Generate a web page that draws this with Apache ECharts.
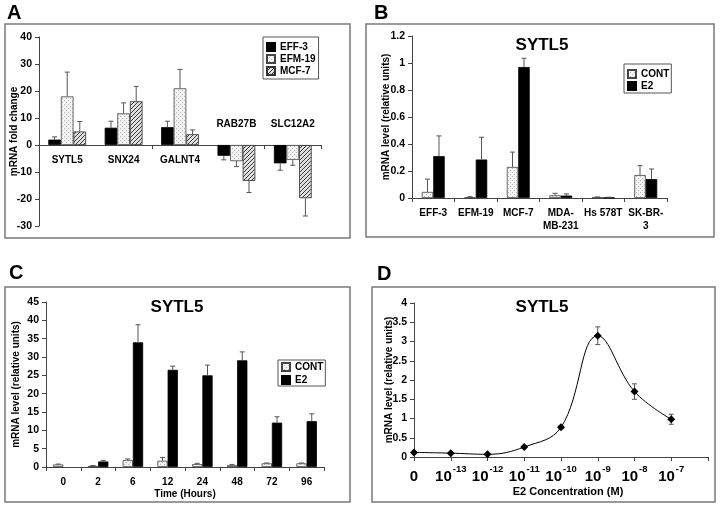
<!DOCTYPE html>
<html><head><meta charset="utf-8">
<script src="https://cdn.jsdelivr.net/npm/echarts@6/dist/echarts.min.js"></script>
<style>html,body{margin:0;padding:0;background:#fff}#c{width:721px;height:508px}</style>
</head><body><div id="c"></div>
<script>
// ---------- Panel A ----------
const aCategories = ['SYTL5', 'SNX24', 'GALNT4', 'RAB27B', 'SLC12A2'];
const aSeriesNames = ['EFF-3', 'EFM-19', 'MCF-7'];
const aEFF3 = [2, 6.4, 6.6, -4, -6.8];
const aEFF3Err = [1, 2.4, 2.2, 1.5, 2.5];
const aEFM19 = [18, 11.7, 21, -6, -5.5];
const aEFM19Err = [9, 3.9, 7, 2, 2];
const aMCF7 = [5, 16.2, 4, -13.3, -19.7];
const aMCF7Err = [3.7, 5.5, 1.6, 4.3, 6.6];

// ---------- Panel B ----------
const bCategories = ['EFF-3', 'EFM-19', 'MCF-7', 'MDA-\nMB-231', 'Hs 578T', 'SK-BR-\n3'];
const bCONT = [0.045, 0.005, 0.23, 0.02, 0.005, 0.17];
const bCONTErr = [0.095, 0.005, 0.11, 0.015, 0.003, 0.07];
const bE2 = [0.31, 0.285, 0.97, 0.018, 0.003, 0.14];
const bE2Err = [0.15, 0.165, 0.065, 0.012, 0.003, 0.075];

// ---------- Panel C ----------
const cCategories = ['0', '2', '6', '12', '24', '48', '72', '96'];
const cCONT = [0.7, 0.3, 1.9, 1.7, 0.8, 0.5, 1.0, 1.0];
const cCONTErr = [0.1, 0.1, 0.3, 0.9, 0.2, 0.2, 0.1, 0.1];
const cE2 = [null, 1.5, 34, 26.5, 25, 29.1, 12.1, 12.5];
const cE2Err = [null, 0.3, 4.8, 1.0, 2.8, 2.3, 1.6, 2.0];

// ---------- Panel D ----------
const dCategories = ['0', '-13', '-12', '-11', '-10', '-9', '-8', '-7', ''];
const dValues = [0.12, 0.1, 0.07, 0.26, 0.77, 3.15, 1.7, 0.98];
const dErr = [0.02, 0.02, 0.02, 0.03, 0.04, 0.23, 0.2, 0.13];

const FF = "'Liberation Sans', Arial, sans-serif";
const AX = '#444';

function makePattern(kind) {
  const c = document.createElement('canvas');
  c.width = 4; c.height = 4;
  const g = c.getContext('2d');
  if (kind === 'dots') {
    g.fillStyle = '#f3f3f3'; g.fillRect(0, 0, 4, 4);
    g.fillStyle = '#b4b4b4'; g.fillRect(0, 0, 1, 1); g.fillRect(2, 2, 1, 1);
  } else {
    g.fillStyle = '#dedede'; g.fillRect(0, 0, 4, 4);
    g.fillStyle = '#404040';
    for (let i = 0; i < 4; i++) g.fillRect(i, 3 - i, 1, 1);
  }
  return { image: c, repeat: 'repeat' };
}
const dots = makePattern('dots');
const hatch = makePattern('hatch');

function errSeries(xi, vals, errs, sIdx, nSeries, gap, both) {
  const data = [];
  vals.forEach((v, i) => { if (v != null && errs[i] != null) data.push([i, v, errs[i]]); });
  return {
    type: 'custom', xAxisIndex: xi, yAxisIndex: xi, silent: true, z: 5,
    data: data,
    renderItem: function (params, api) {
      const i = api.value(0), v = api.value(1), e = api.value(2);
      const p = api.coord([i, v]);
      let x = p[0];
      if (nSeries) {
        const band = api.size([1, 0])[0];
        const gw = band * (1 - gap);
        const bw = gw / nSeries;
        x = p[0] - gw / 2 + bw * (sIdx + 0.5);
      }
      const dir = v < 0 ? -1 : 1;
      const pe = api.coord([i, v + dir * e]);
      const pl = both ? api.coord([i, v - dir * e]) : p;
      const cap = 2.5;
      const st = { stroke: '#555', lineWidth: 1 };
      const ch = [
        { type: 'line', shape: { x1: x, y1: pl[1], x2: x, y2: pe[1] }, style: st },
        { type: 'line', shape: { x1: x - cap, y1: pe[1], x2: x + cap, y2: pe[1] }, style: st }
      ];
      if (both) ch.push({ type: 'line', shape: { x1: x - cap, y1: pl[1], x2: x + cap, y2: pl[1] }, style: st });
      return { type: 'group', children: ch };
    }
  };
}

const labelStyle = { color: '#000', fontWeight: 'bold', fontSize: 10, fontFamily: FF };
const nameStyle = { color: '#000', fontWeight: 'bold', fontSize: 10, fontFamily: FF };

function yAxis(gi, min, max, interval, name, gap) {
  return {
    gridIndex: gi, type: 'value', min: min, max: max, interval: interval,
    name: name, nameLocation: 'middle', nameGap: gap, nameTextStyle: nameStyle,
    nameMoveOverlap: false,
    axisLine: { show: true, lineStyle: { color: AX, width: 1 } },
    axisTick: { show: true, length: 4, lineStyle: { color: AX } },
    splitLine: { show: false },
    axisLabel: Object.assign({ margin: 7 }, labelStyle, { fontSize: 10.5 })
  };
}
function catAxis(gi, data, extra) {
  return Object.assign({
    gridIndex: gi, type: 'category', data: data,
    nameMoveOverlap: false,
    axisLine: { show: true, onZero: true, lineStyle: { color: AX, width: 1 } },
    axisTick: { show: true, length: 4, lineStyle: { color: AX } },
    splitLine: { show: false },
    axisLabel: Object.assign({ interval: 0, margin: 9, lineHeight: 13 }, labelStyle),
    nameTextStyle: nameStyle
  }, extra || {});
}

const gapA = 0.33, gapB = 0.46, gapC = 0.41;
function bar(gi, name, data, color, gap, border) {
  return {
    type: 'bar', name: name, xAxisIndex: gi, yAxisIndex: gi, data: data,
    barGap: '0%', barCategoryGap: (gap * 100) + '%',
    itemStyle: { color: color, borderColor: border || '#000', borderWidth: 0.8 },
    silent: true, animation: false
  };
}

const legendBase = {
  orient: 'vertical', icon: 'rect', itemWidth: 8, itemHeight: 8, itemGap: 2,
  borderColor: '#555', borderWidth: 1, selectedMode: false,
  textStyle: { color: '#000', fontWeight: 'bold', fontSize: 10, fontFamily: FF }
};

const txt = (x, y, text, size, align) => ({
  type: 'text', x: x, y: y, silent: true,
  style: { text: text, font: 'bold ' + size + 'px ' + FF, fill: '#000',
    textAlign: align || 'left', textVerticalAlign: 'top', align: align || 'left', verticalAlign: 'top' }
});
const frame = (x, y, w, h) => ({
  type: 'rect', silent: true, z: -10, shape: { x: x, y: y, width: w, height: h },
  style: { fill: null, stroke: '#7a7a7a', lineWidth: 1.5 }
});

const option = {
  animation: false,
  backgroundColor: '#fff',
  graphic: [
    frame(5, 24, 345, 214), frame(366, 24, 348, 213), frame(5, 287, 345, 215), frame(372, 287, 343, 215),
    txt(7, 3, 'A', 20), txt(374, 3, 'B', 20), txt(9, 263, 'C', 20), txt(377, 264, 'D', 20),
    txt(542, 37, 'SYTL5', 17, 'center'), txt(177, 299, 'SYTL5', 17, 'center'), txt(542, 299, 'SYTL5', 17, 'center')
  ],
  grid: [
    { left: 39, top: 37, width: 282, height: 189 },
    { left: 412, top: 36, width: 255, height: 162 },
    { left: 46, top: 302, width: 278, height: 165 },
    { left: 414, top: 303, width: 294, height: 154 }
  ],
  legend: [
    Object.assign({}, legendBase, { data: aSeriesNames, left: 263, top: 37, padding: [5, 3, 3, 3] }),
    Object.assign({}, legendBase, { data: ['CONT', 'E2'], left: 624, top: 64, padding: [5, 2, 2, 3] }),
    Object.assign({}, legendBase, { data: ['CONT', 'E2'], left: 278, top: 360, padding: [2, 2, 1, 3], itemGap: 3 })
  ],
  xAxis: [
    catAxis(0, aCategories, { axisLabel: { show: false } }),
    catAxis(1, bCategories),
    catAxis(2, cCategories, { name: 'Time (Hours)', nameLocation: 'middle', nameGap: 22 }),
    catAxis(3, dCategories, {
      boundaryGap: false, name: 'E2 Concentration (M)', nameLocation: 'middle', nameGap: 29,
      nameTextStyle: Object.assign({}, nameStyle, { fontSize: 11, padding: [0, 0, 0, 14] }),
      axisLabel: {
        interval: 0, margin: 7, color: '#000',
        formatter: function (v) { return v === '' ? '' : (v === '0' ? '{b|0}' : '{b|10}{s|' + v + '}'); },
        rich: {
          b: { fontSize: 15, fontWeight: 'bold', fontFamily: FF, color: '#000', lineHeight: 20, verticalAlign: 'bottom' },
          s: { fontSize: 9.5, fontWeight: 'bold', fontFamily: FF, color: '#000', lineHeight: 20, verticalAlign: 'top', padding: [0, 0, 0, 1] }
        }
      }
    })
  ],
  yAxis: [
    yAxis(0, -30, 40, 10, 'mRNA fold change', 20),
    yAxis(1, 0, 1.2, 0.2, 'mRNA level (relative units)', 21),
    yAxis(2, 0, 45, 5, 'mRNA level (relative units)', 25),
    yAxis(3, 0, 4, 0.5, 'mRNA level (relative units)', 20)
  ],
  series: [
    bar(0, 'EFF-3', aEFF3, '#000', gapA),
    bar(0, 'EFM-19', aEFM19, dots, gapA, '#444'),
    bar(0, 'MCF-7', aMCF7, hatch, gapA, '#333'),
    errSeries(0, aEFF3, aEFF3Err, 0, 3, gapA),
    errSeries(0, aEFM19, aEFM19Err, 1, 3, gapA),
    errSeries(0, aMCF7, aMCF7Err, 2, 3, gapA),
    {
      type: 'custom', xAxisIndex: 0, yAxisIndex: 0, silent: true, z: 6,
      data: aCategories.map((c, i) => [i, aEFF3[i] + aEFM19[i] + aMCF7[i]]),
      renderItem: function (params, api) {
        const p = api.coord([api.value(0), 0]);
        const neg = api.value(1) < 0;
        return {
          type: 'text', x: p[0], y: neg ? p[1] - 16 : p[1] + 10,
          style: { text: aCategories[params.dataIndex], font: 'bold 10px ' + FF, fill: '#000',
            textAlign: 'center', align: 'center', textVerticalAlign: neg ? 'bottom' : 'top', verticalAlign: neg ? 'bottom' : 'top' }
        };
      }
    },
    bar(1, 'CONT', bCONT, dots, gapB, '#444'),
    bar(1, 'E2', bE2, '#000', gapB),
    errSeries(1, bCONT, bCONTErr, 0, 2, gapB),
    errSeries(1, bE2, bE2Err, 1, 2, gapB),
    bar(2, 'CONT', cCONT, dots, gapC, '#444'),
    bar(2, 'E2', cE2, '#000', gapC),
    errSeries(2, cCONT, cCONTErr, 0, 2, gapC),
    errSeries(2, cE2, cE2Err, 1, 2, gapC),
    {
      type: 'line', xAxisIndex: 3, yAxisIndex: 3, data: dValues, smooth: 0.4,
      symbol: 'diamond', symbolSize: 8, showSymbol: true, silent: true,
      lineStyle: { color: '#000', width: 1 }, itemStyle: { color: '#000' }, z: 6
    },
    errSeries(3, dValues, dErr, 0, 0, 0, true)
  ]
};

const chart = echarts.init(document.getElementById('c'), null, { renderer: 'canvas' });
chart.setOption(option);
</script>
</body></html>
